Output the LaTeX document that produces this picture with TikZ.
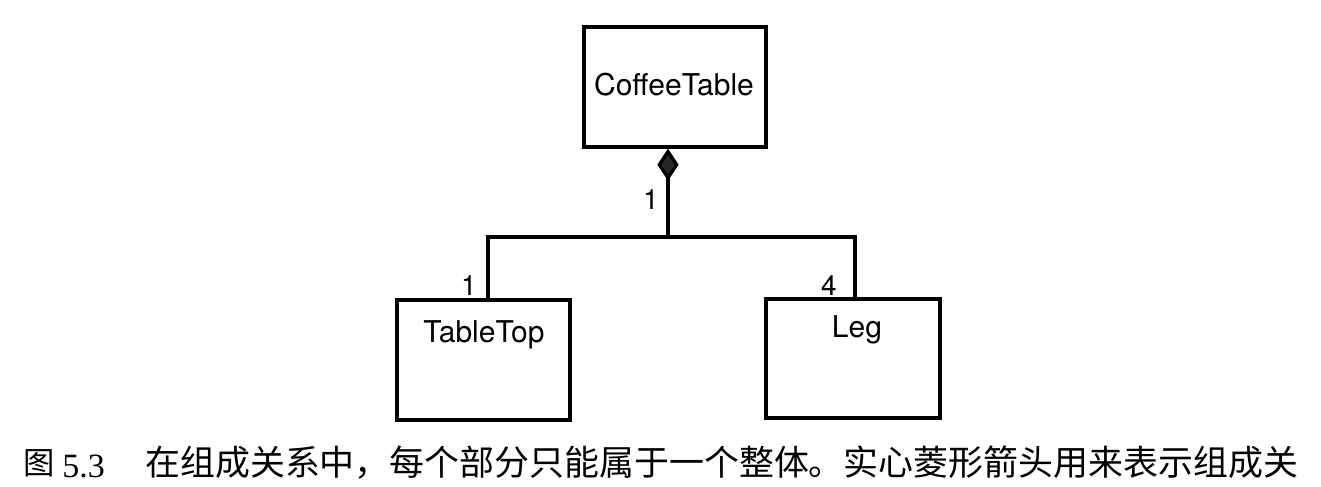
\documentclass[tikz,border=0pt]{standalone}
\usepackage{fontspec}
\setmainfont{TeX Gyre Heros}
\newfontfamily\cjk{Noto Sans CJK SC}
\newfontfamily\capserif{Liberation Serif}
\usetikzlibrary{arrows.meta}
\tikzset{
  box/.style={draw=black, line width=2.5pt, rectangle, inner sep=0pt},
  conn/.style={draw=black, line width=2.5pt},
  lbl/.style={font=\fontsize{22.5}{25}\selectfont, inner sep=0pt},
  mult/.style={font=\fontsize{21}{23}\selectfont, inner sep=0pt},
  captxt/.style={inner sep=0pt, anchor=west}
}
\begin{document}
\begin{tikzpicture}[x=0.75pt,y=-0.75pt]
\useasboundingbox (0,0) rectangle (1321,486);
% boxes
\node[box, minimum width=136.5pt, minimum height=90pt] (ct) at (675,87) {};
\node[box, minimum width=129.75pt, minimum height=90pt] (tt) at (483.5,360) {};
\node[box, minimum width=130.5pt, minimum height=89.25pt] (leg) at (853,358.5) {};
% texts
\node[lbl] (ctt) at (674,85) {CoffeeTable};
\node[lbl] (ttt) at (484,335) {TableTop};
\node[lbl] (legt) at (857,330) {Leg};
% connectors
\coordinate (j) at (668,237);
\coordinate (ja) at (488,237);
\coordinate (jb) at (855,237);
\draw[conn, {Diamond[length=24pt, width=16pt, fill=black!85]}-] (j |- ct.south) -- (j);
\draw[conn] (ja |- tt.north) -- (ja) -- (jb) -- (jb |- leg.north);
% multiplicities
\node[mult] (m1) at (651,200) {1};
\node[mult] (m2) at (469,286) {1};
\node[mult] (m3) at (829,286) {4};
% caption
\node[captxt] (cap1) at (23,463) {\cjk\fontsize{23.5}{28}\selectfont 图};
\node[captxt] (cap2) at (62,466) {\capserif\fontsize{25.5}{28}\selectfont 5.3};
\node[captxt] (cap3) at (145,463) {\cjk\fontsize{26.2}{30}\selectfont 在组成关系中，每个部分只能属于一个整体。实心菱形箭头用来表示组成关};
\end{tikzpicture}
\end{document}
